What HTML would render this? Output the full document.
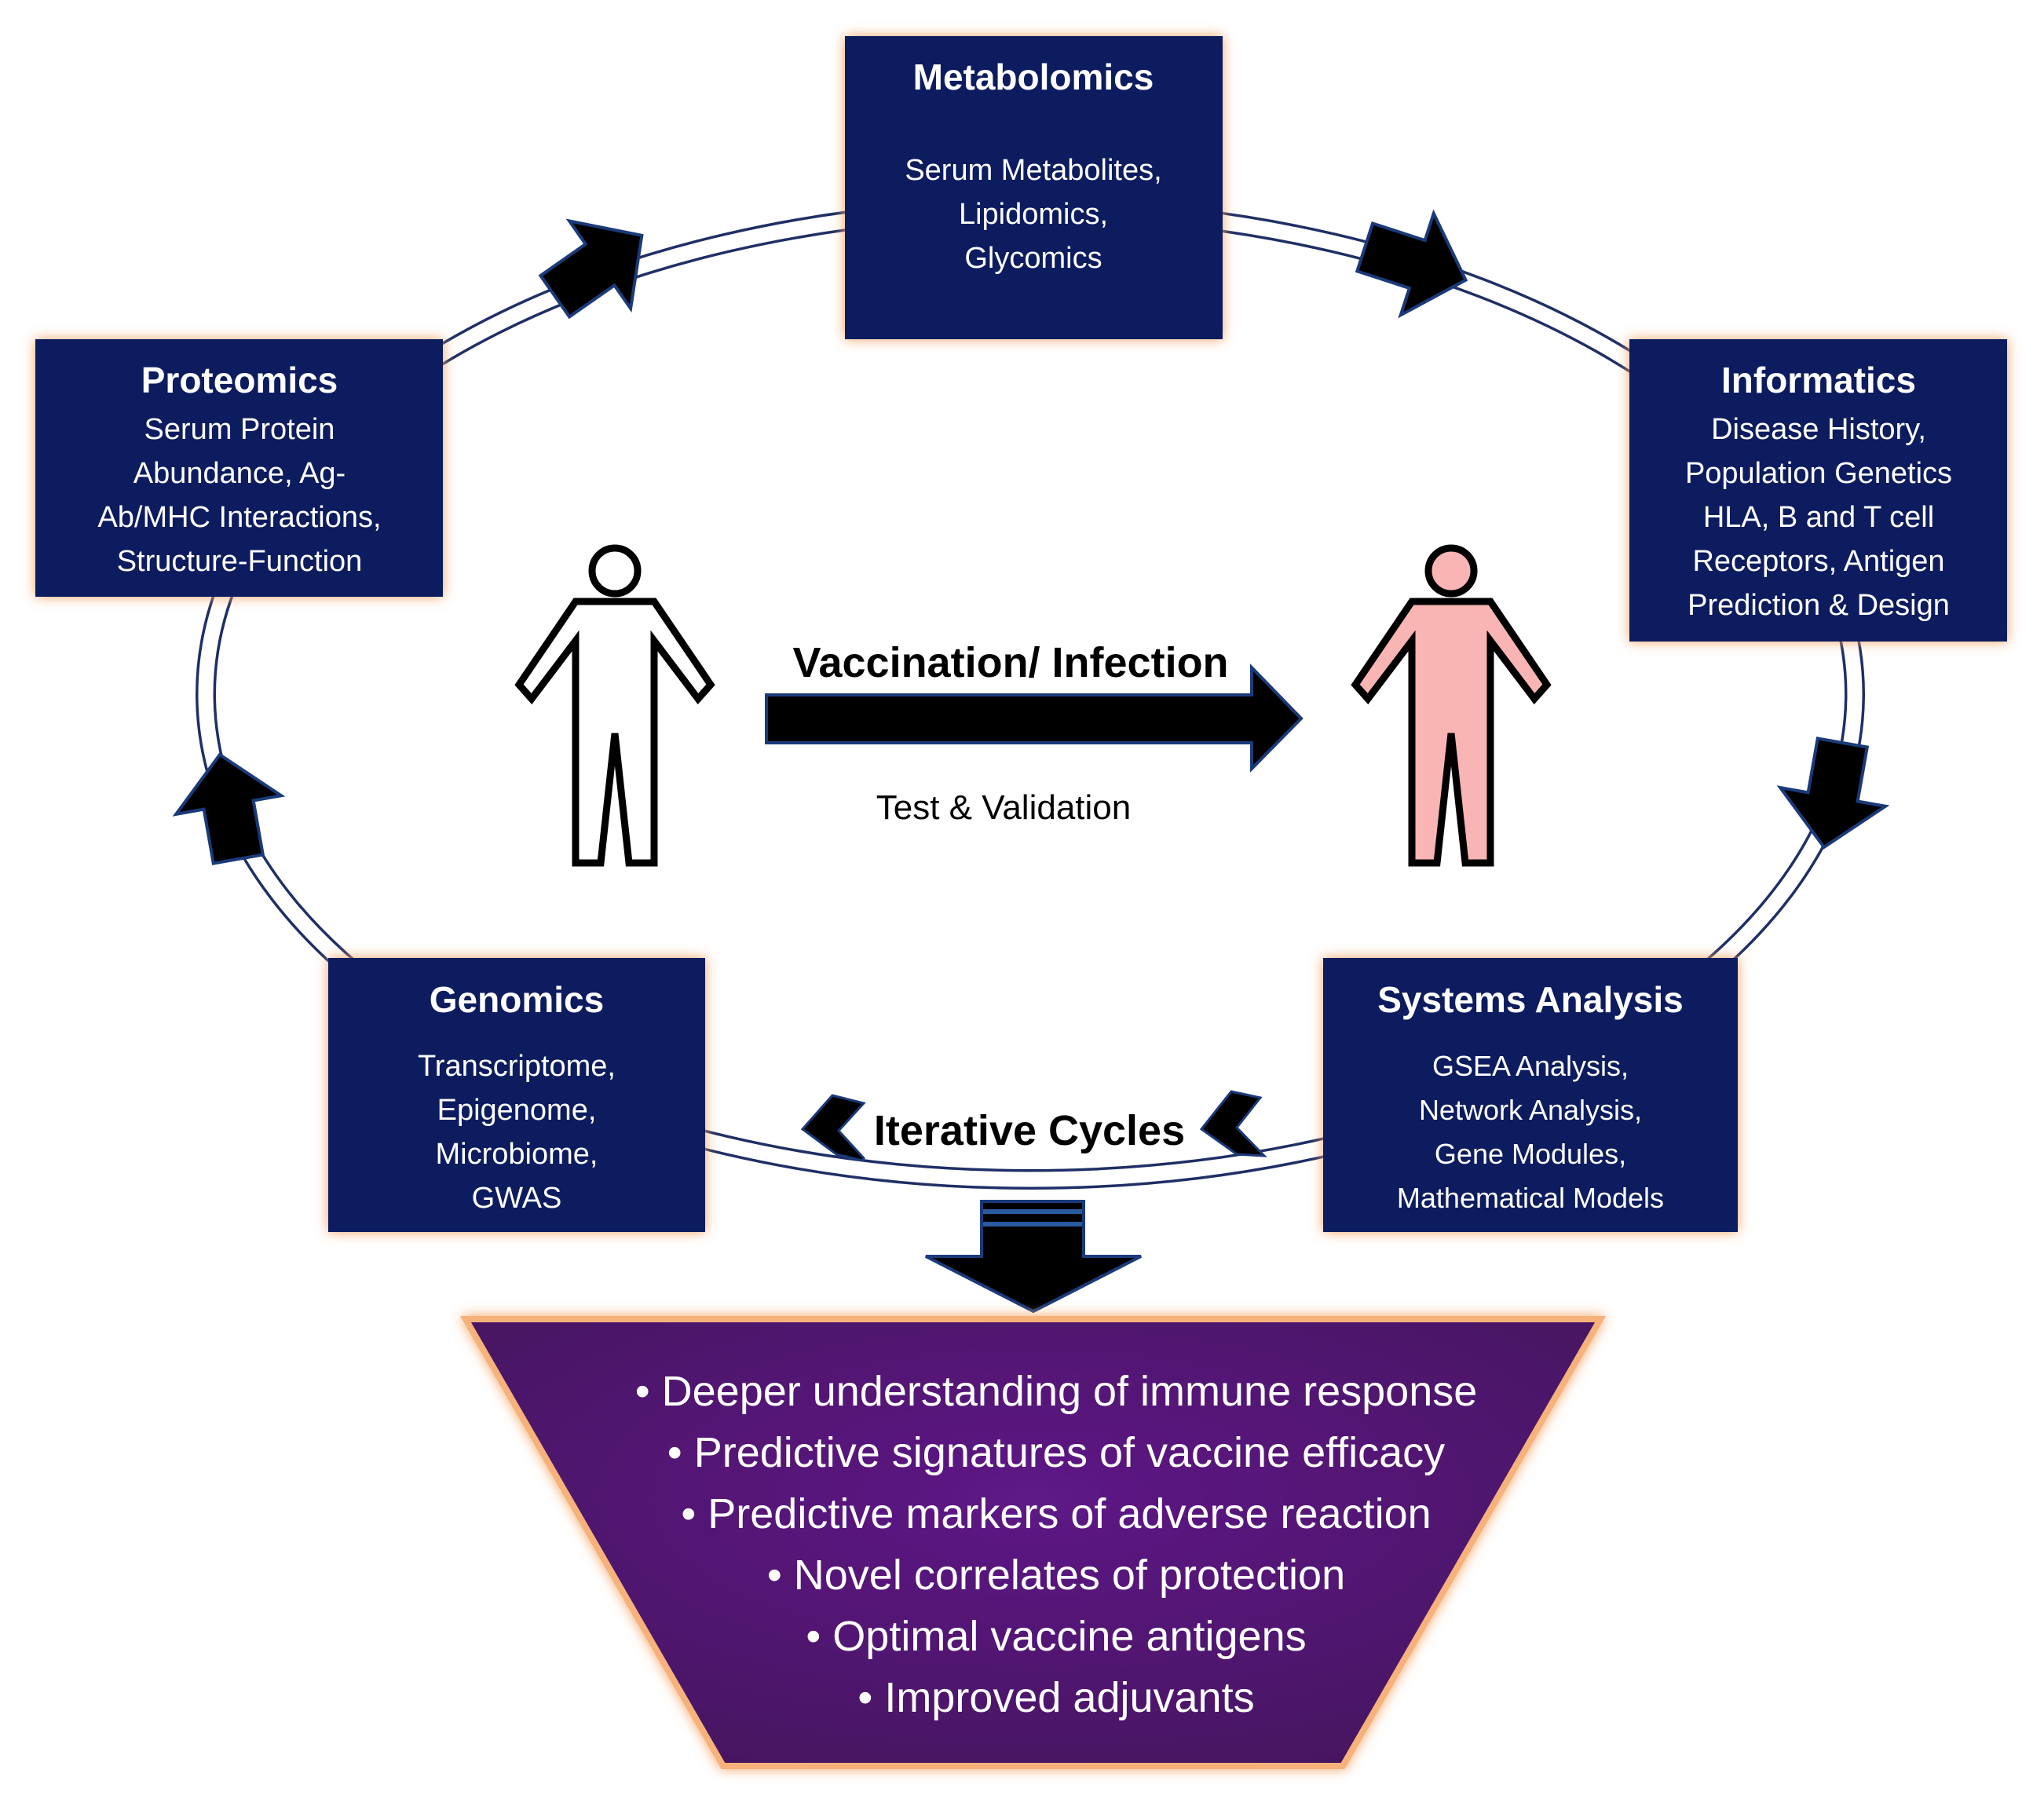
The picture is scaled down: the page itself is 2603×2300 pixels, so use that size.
<!DOCTYPE html>
<html><head><meta charset="utf-8"><style>
html,body{margin:0;padding:0;background:#fff;}
svg{display:block;}
text{font-family:"Liberation Sans",sans-serif;}
</style></head><body>
<svg width="2603" height="2300" viewBox="0 0 2603 2300" xmlns="http://www.w3.org/2000/svg">
<defs>
<filter id="glow" x="-10%" y="-10%" width="120%" height="120%">
<feGaussianBlur in="SourceAlpha" stdDeviation="8" result="b"/>
<feFlood flood-color="#f4a060"/>
<feComposite in2="b" operator="in"/>
<feMerge><feMergeNode/><feMergeNode in="SourceGraphic"/></feMerge>
</filter>
<radialGradient id="purp" cx="50%" cy="40%" r="70%">
<stop offset="0" stop-color="#5e1a86"/><stop offset="1" stop-color="#45115e"/>
</radialGradient>
<g id="blk"><polygon points="-65,-32 5,-32 5,-68 70,0 5,68 5,32 -65,32" fill="#000" stroke="#1a3a7a" stroke-width="4"/></g>
</defs>

<ellipse cx="1312" cy="884" rx="1050" ry="618" fill="none" stroke="#1f2f66" stroke-width="26"/>
<ellipse cx="1312" cy="884" rx="1050" ry="618" fill="none" stroke="#fff" stroke-width="19"/>

<use href="#blk" transform="translate(760,340) rotate(-35)"/>
<use href="#blk" transform="translate(1800,335) rotate(18)"/>
<use href="#blk" transform="translate(2335,1010) rotate(100)"/>
<use href="#blk" transform="translate(292,1030) rotate(-100)"/>

<g filter="url(#glow)" fill="#0c1d5e">
<rect x="1076" y="46" width="481" height="386"/>
<rect x="45" y="432" width="519" height="328"/>
<rect x="2075" y="432" width="481" height="385"/>
<rect x="418" y="1220" width="480" height="349"/>
<rect x="1685" y="1220" width="528" height="349"/>
</g>
<g fill="#fff" text-anchor="middle">
<text x="1316" y="114" font-size="46" font-weight="bold">Metabolomics</text>
<text x="1316" y="229" font-size="38">Serum Metabolites,</text>
<text x="1316" y="285" font-size="38">Lipidomics,</text>
<text x="1316" y="341" font-size="38">Glycomics</text>

<text x="305" y="500" font-size="46" font-weight="bold">Proteomics</text>
<text x="305" y="559" font-size="38">Serum Protein</text>
<text x="305" y="615" font-size="38">Abundance, Ag-</text>
<text x="305" y="671" font-size="38">Ab/MHC Interactions,</text>
<text x="305" y="727" font-size="38">Structure-Function</text>

<text x="2316" y="500" font-size="46" font-weight="bold">Informatics</text>
<text x="2316" y="559" font-size="38">Disease History,</text>
<text x="2316" y="615" font-size="38">Population Genetics</text>
<text x="2316" y="671" font-size="38">HLA,  B and T cell</text>
<text x="2316" y="727" font-size="38">Receptors, Antigen</text>
<text x="2316" y="783" font-size="38">Prediction &amp; Design</text>

<text x="658" y="1289" font-size="46" font-weight="bold">Genomics</text>
<text x="658" y="1370" font-size="38">Transcriptome,</text>
<text x="658" y="1426" font-size="38">Epigenome,</text>
<text x="658" y="1482" font-size="38">Microbiome,</text>
<text x="658" y="1538" font-size="38">GWAS</text>

<text x="1949" y="1289" font-size="46" font-weight="bold">Systems Analysis</text>
<text x="1949" y="1370" font-size="36">GSEA Analysis,</text>
<text x="1949" y="1426" font-size="36">Network Analysis,</text>
<text x="1949" y="1482" font-size="36">Gene  Modules,</text>
<text x="1949" y="1538" font-size="36">Mathematical Models</text>
</g>

<rect x="1090" y="1400" width="440" height="70" fill="#fff"/>
<text x="1311" y="1458" font-size="54" font-weight="bold" text-anchor="middle" fill="#000">Iterative Cycles</text>
<polygon points="1060,1395 1100,1405 1068,1440 1100,1475 1098,1478 1065,1470 1022,1438" fill="#000" stroke="#1a3a7a" stroke-width="3"/>
<polygon points="1568,1390 1605,1398 1575,1436 1610,1472 1575,1470 1530,1438" fill="#000" stroke="#1a3a7a" stroke-width="3"/>

<polygon points="1250,1530 1380,1530 1380,1600 1453,1600 1316,1670 1179,1600 1250,1600" fill="#000" stroke="#1a3a7a" stroke-width="4"/>
<rect x="1252" y="1540" width="126" height="6" fill="#2a5aa0"/>
<rect x="1252" y="1556" width="126" height="6" fill="#2a5aa0"/>

<polygon points="593,1680 2038,1680 1710,2249 921,2249" fill="url(#purp)" stroke="#f6b27a" stroke-width="8" filter="url(#glow)"/>
<g fill="#fff" font-size="54" text-anchor="middle">
<text x="1345" y="1790">•  Deeper understanding of immune response</text>
<text x="1345" y="1868">•  Predictive signatures of vaccine efficacy</text>
<text x="1345" y="1946">•  Predictive markers of adverse reaction</text>
<text x="1345" y="2024">•  Novel correlates of protection</text>
<text x="1345" y="2102">•  Optimal vaccine antigens</text>
<text x="1345" y="2180">•  Improved adjuvants</text>
</g>

<polygon points="976,885 1594,885 1594,850 1657,915 1594,979 1594,946 976,946" fill="#000" stroke="#1a3a7a" stroke-width="4"/>
<text x="1287" y="862" font-size="54" font-weight="bold" text-anchor="middle">Vaccination/ Infection</text>
<text x="1278" y="1043" font-size="44" text-anchor="middle">Test &amp; Validation</text>

<g transform="translate(661,694)" stroke="#000" stroke-width="9" stroke-linejoin="miter">
<circle cx="122" cy="33" r="29" fill="#fff"/>
<polygon points="72,72 172,72 244,178 228,196 172,122 172,405 140,405 122,240 104,405 72,405 72,122 16,196 0,178" fill="#fff"/>
</g>
<g transform="translate(1726,694)" stroke="#000" stroke-width="9" stroke-linejoin="miter">
<circle cx="122" cy="33" r="29" fill="#f9b4b4"/>
<polygon points="72,72 172,72 244,178 228,196 172,122 172,405 140,405 122,240 104,405 72,405 72,122 16,196 0,178" fill="#f9b4b4"/>
</g>
</svg>
</body></html>
